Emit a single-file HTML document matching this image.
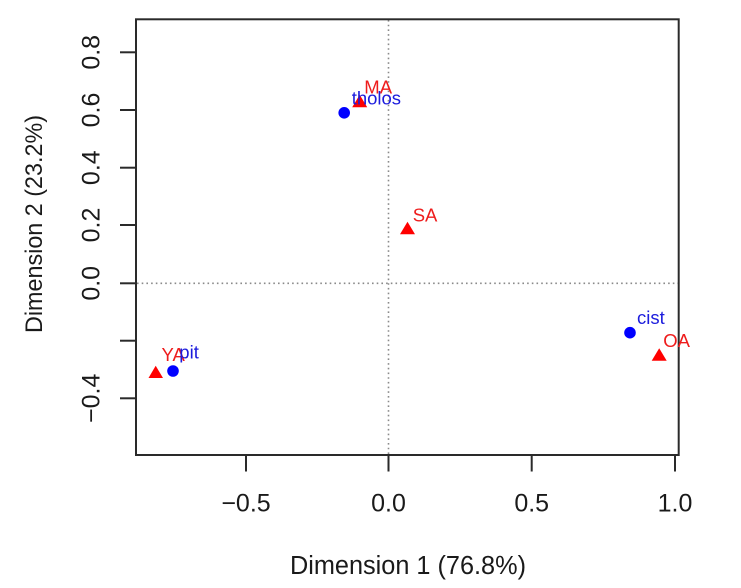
<!DOCTYPE html>
<html>
<head>
<meta charset="utf-8">
<style>
  html,body{margin:0;padding:0;background:#fff;}
  svg{display:block;}
  text{font-family:"Liberation Sans", Arial, sans-serif;}
</style>
</head>
<body>
<svg width="741" height="588" viewBox="0 0 741 588" xmlns="http://www.w3.org/2000/svg">
  <rect x="0" y="0" width="741" height="588" fill="#fff"/>

  <!-- dotted reference lines -->
  <line x1="388.5" y1="20" x2="388.5" y2="454" stroke="#8a8a8a" stroke-width="1.6" stroke-dasharray="1.6 3.1"/>
  <line x1="137" y1="283.3" x2="678" y2="283.3" stroke="#8a8a8a" stroke-width="1.6" stroke-dasharray="1.6 3.1"/>

  <!-- plot box -->
  <rect x="136" y="19.3" width="542.7" height="435.7" fill="none" stroke="#2a2a2a" stroke-width="2"/>

  <!-- y ticks -->
  <g stroke="#2a2a2a" stroke-width="2">
    <line x1="120" y1="52.3" x2="136" y2="52.3"/>
    <line x1="120" y1="110" x2="136" y2="110"/>
    <line x1="120" y1="167.7" x2="136" y2="167.7"/>
    <line x1="120" y1="225" x2="136" y2="225"/>
    <line x1="120" y1="283.3" x2="136" y2="283.3"/>
    <line x1="120" y1="340.7" x2="136" y2="340.7"/>
    <line x1="120" y1="398.3" x2="136" y2="398.3"/>
  </g>
  <!-- x ticks -->
  <g stroke="#2a2a2a" stroke-width="2">
    <line x1="246" y1="455" x2="246" y2="471.5"/>
    <line x1="388.5" y1="455" x2="388.5" y2="471.5"/>
    <line x1="531.7" y1="455" x2="531.7" y2="471.5"/>
    <line x1="675" y1="455" x2="675" y2="471.5"/>
  </g>

  <!-- y tick labels (rotated) -->
  <g font-size="25" fill="#1a1a1a" text-anchor="middle">
    <text transform="translate(99.5,52.3) rotate(-90)">0.8</text>
    <text transform="translate(99.5,110) rotate(-90)">0.6</text>
    <text transform="translate(99.5,167.7) rotate(-90)">0.4</text>
    <text transform="translate(99.5,225) rotate(-90)">0.2</text>
    <text transform="translate(99.5,283.3) rotate(-90)">0.0</text>
    <text transform="translate(99.5,398.3) rotate(-90)">−0.4</text>
  </g>

  <!-- x tick labels -->
  <g font-size="25" fill="#1a1a1a" text-anchor="middle">
    <text x="246" y="511.5">−0.5</text>
    <text x="388.5" y="511.5">0.0</text>
    <text x="531.7" y="511.5">0.5</text>
    <text x="675" y="511.5">1.0</text>
  </g>

  <!-- axis titles -->
  <text x="290" y="574" font-size="25.5" fill="#1a1a1a" textLength="236" lengthAdjust="spacingAndGlyphs">Dimension 1 (76.8%)</text>
  <text transform="translate(42,333) rotate(-90)" font-size="24" fill="#1a1a1a" textLength="218" lengthAdjust="spacingAndGlyphs">Dimension 2 (23.2%)</text>

  <!-- blue points (rows) -->
  <g fill="#0000ff">
    <circle cx="344.2" cy="112.8" r="5.8"/>
    <circle cx="173" cy="371" r="5.8"/>
    <circle cx="630" cy="332.7" r="5.8"/>
  </g>

  <!-- red triangles (columns) -->
  <g fill="#ff0000">
    <polygon points="352.2,107.3 367.2,107.3 359.7,94.8"/>
    <polygon points="400,234.3 415,234.3 407.5,221.8"/>
    <polygon points="148.5,378 163,378 155.7,365.8"/>
    <polygon points="651.7,360.7 666.7,360.7 659.2,348.2"/>
  </g>

  <!-- labels -->
  <g font-size="18.5">
    <text x="364.3" y="93.3" fill="#ee1c1c">MA</text>
    <text x="351.7" y="104.3" fill="#1c1cdd">tholos</text>
    <text x="412.7" y="221.5" fill="#ee1c1c">SA</text>
    <text x="161.5" y="361" fill="#ee1c1c">YA</text>
    <text x="179.3" y="358.3" fill="#1c1cdd">pit</text>
    <text x="637" y="324" fill="#1c1cdd">cist</text>
    <text x="663.3" y="347" fill="#ee1c1c">OA</text>
  </g>
</svg>
</body>
</html>
